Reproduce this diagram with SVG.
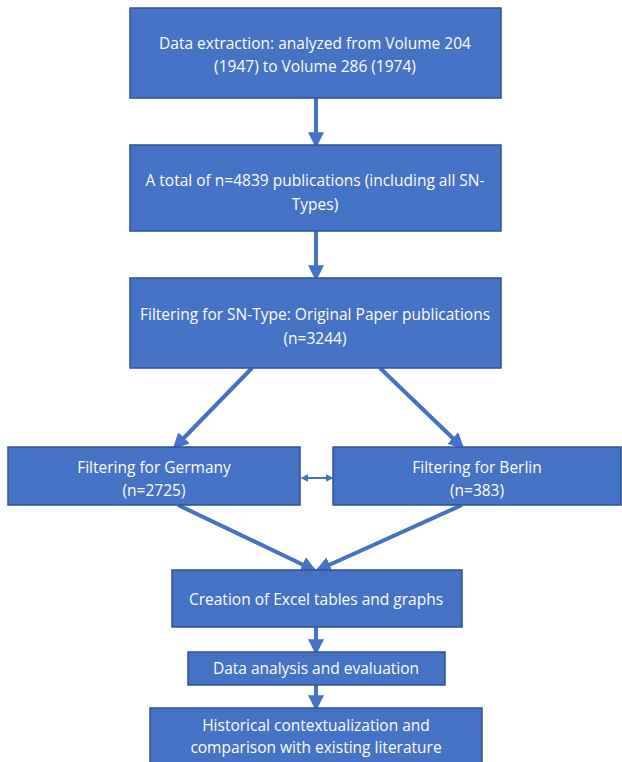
<svg xmlns="http://www.w3.org/2000/svg" width="622" height="762" viewBox="0 0 622 762">
<defs>
<marker id="ah" markerWidth="4" markerHeight="4" refX="3.2" refY="2" orient="auto" markerUnits="strokeWidth">
<path d="M0,0 L4,2 L0,4 z" fill="#4472C4"/>
</marker>
<marker id="as" markerWidth="4" markerHeight="4" refX="0.8" refY="2" orient="auto" markerUnits="strokeWidth">
<path d="M4,0 L0,2 L4,4 z" fill="#4472C4"/>
</marker>
<style>
.box{fill:#4472C4;stroke:#2F528F;stroke-width:1.5}
.t{fill:#ffffff;font-family:"Open Sans","Liberation Sans",sans-serif;font-size:15.5px;text-anchor:middle}
.c{stroke:#4472C4;stroke-width:4;fill:none;marker-end:url(#ah)}
</style>
</defs>
<rect width="622" height="762" fill="#ffffff"/>
<g id="connectors">
<line class="c" x1="316" y1="98" x2="316" y2="145"/>
<line class="c" x1="316" y1="231" x2="316" y2="278"/>
<line class="c" x1="252" y1="368" x2="175" y2="447"/>
<line class="c" x1="380" y1="368" x2="462" y2="447"/>
<line x1="302" y1="478" x2="332" y2="478" stroke="#4472C4" stroke-width="2" marker-start="url(#as)" marker-end="url(#ah)"/>
<line class="c" x1="178" y1="505" x2="314" y2="570"/>
<line class="c" x1="462" y1="505" x2="318" y2="570"/>
<line class="c" x1="316" y1="627" x2="316" y2="652"/>
<line class="c" x1="316" y1="685" x2="316" y2="708"/>
</g>
<g id="n1"><rect class="box" x="130" y="8" width="371" height="90"/>
<text class="t" x="315" y="49">Data extraction: analyzed from Volume 204</text>
<text class="t" x="315" y="72">(1947) to Volume 286 (1974)</text></g>
<g id="n2"><rect class="box" x="130" y="145" width="371" height="86"/>
<text class="t" x="315" y="186">A total of n=4839 publications (including all SN-</text>
<text class="t" x="315" y="210">Types)</text></g>
<g id="n3"><rect class="box" x="130" y="278" width="371" height="90"/>
<text class="t" x="315" y="320">Filtering for SN-Type: Original Paper publications</text>
<text class="t" x="315" y="344">(n=3244)</text></g>
<g id="n4"><rect class="box" x="8" y="447" width="292" height="58"/>
<text class="t" x="154" y="473">Filtering for Germany</text>
<text class="t" x="154" y="496">(n=2725)</text></g>
<g id="n5"><rect class="box" x="333" y="447" width="288" height="58"/>
<text class="t" x="477" y="473">Filtering for Berlin</text>
<text class="t" x="477" y="496">(n=383)</text></g>
<g id="n6"><rect class="box" x="172" y="570" width="290" height="57"/>
<text class="t" x="316" y="605">Creation of Excel tables and graphs</text></g>
<g id="n7"><rect class="box" x="188" y="652" width="257" height="33"/>
<text class="t" x="316" y="674">Data analysis and evaluation</text></g>
<g id="n8"><rect class="box" x="150" y="708" width="332" height="60"/>
<text class="t" x="316" y="731">Historical contextualization and</text>
<text class="t" x="316" y="753">comparison with existing literature</text></g>
</svg>
